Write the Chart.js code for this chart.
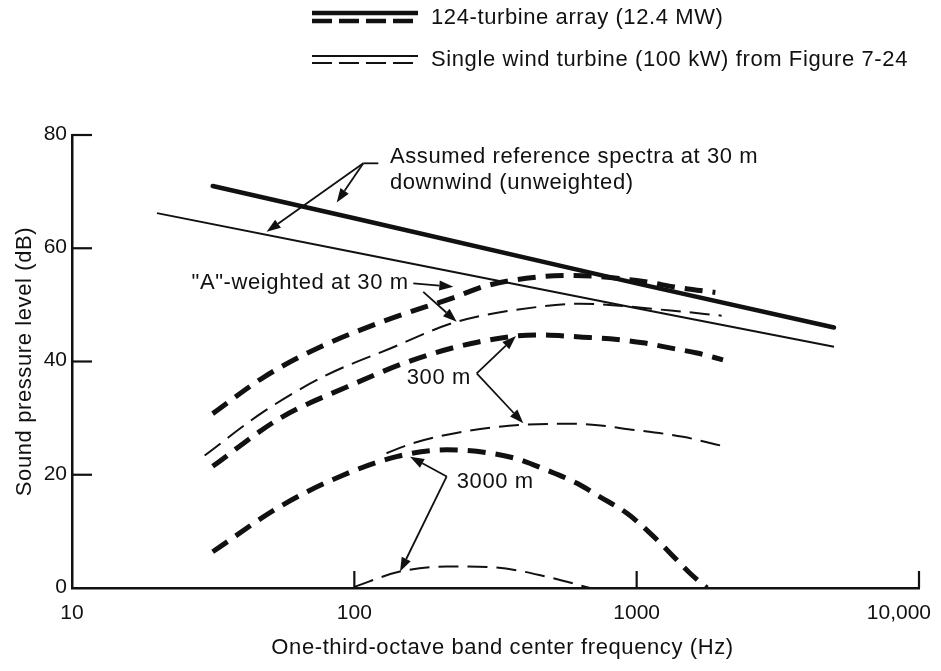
<!DOCTYPE html>
<html>
<head>
<meta charset="utf-8">
<script src="https://cdn.jsdelivr.net/npm/chart.js@4/dist/chart.umd.min.js"></script>
<style>
html,body{margin:0;padding:0;background:#fff;}
#wrap{width:941px;height:671px;position:relative;}
</style>
</head>
<body>
<div id="wrap"><canvas id="c" width="941" height="671"></canvas></div>
<script>
// ---------- data (frequency in Hz, level in dB) ----------
const xTickValues = [10, 100, 1000, 10000];
const xTickLabels = ['10', '100', '1000', '10,000'];
const yTickValues = [0, 20, 40, 60, 80];

// 124-turbine array, unweighted reference at 30 m (thick solid)
const arrayRefFreq = [31.5, 100, 1000, 5000];
const arrayRefDb   = [71.0, 65.3, 53.8, 46.0];

// single turbine, unweighted reference at 30 m (thin solid)
const singleRefFreq = [20, 100, 1000, 5000];
const singleRefDb   = [66.2, 59.3, 49.4, 42.6];

// array, A-weighted at 30 m (thick dashed)
const arrayA30Freq = [31.5, 48, 76, 130, 225, 295, 444, 600, 1000, 1430, 1900];
const arrayA30Db   = [30.8, 37.3, 42.6, 47.3, 51.3, 53.4, 54.9, 55.2, 54.3, 53.0, 52.2];

// single, A-weighted at 30 m (thin dashed)
const singleA30Freq = [29.5, 47.6, 77.5, 134, 230, 457, 633, 1320, 2000];
const singleA30Db   = [23.4, 31.1, 37.3, 42.3, 47.0, 49.7, 50.2, 49.0, 48.1];

// array, 300 m (thick dashed)
const array300Freq = [31.5, 54.6, 94, 162, 278, 443, 646, 804, 1053, 1312, 1636, 2022];
const array300Db   = [21.5, 30.0, 35.5, 40.3, 43.5, 44.7, 44.3, 44.0, 43.3, 42.4, 41.5, 40.3];

// single, 300 m (thin dashed)
const single300Freq = [130, 162, 243, 386, 605, 986, 1459, 1894, 2090];
const single300Db   = [23.8, 25.6, 27.6, 28.8, 29.0, 27.9, 26.7, 25.4, 24.9];

// array, 3000 m (thick dashed)
const array3000Freq = [31.5, 54.6, 89, 141, 212, 365, 481, 615, 741, 924, 1115, 1312, 1545, 1775];
const array3000Db   = [6.4, 14.4, 19.7, 23.2, 24.4, 23.0, 20.8, 18.5, 16.1, 13.2, 9.7, 6.2, 2.6, 0];

// single, 3000 m (thin dashed)
const single3000Freq = [100, 145, 212, 319, 480, 683];
const single3000Db   = [0.2, 2.9, 3.8, 3.6, 2.0, 0];

// ---------- text ----------
const legendLabels = ['124-turbine array (12.4 MW)', 'Single wind turbine (100 kW) from Figure 7-24'];
const xTitle = 'One-third-octave band center frequency (Hz)';
const yTitle = 'Sound pressure level (dB)';

// annotations, anchored in data space [Hz, dB]
const noteRef = { lines: ['Assumed reference spectra at 30 m', 'downwind (unweighted)'], at: [[133.7, 76.2], [133.7, 71.5]],
                  tail: [[121.6, 75.0], [107.6, 75.0]], tips: [[48.9, 62.9], [86.6, 68.1]] };
const noteA30 = { text: '"A"-weighted at 30 m', at: [26.5, 53.9],
                  arrows: [[[161.8, 53.8], [224.2, 53.2]], [[175.4, 52.3], [230.5, 47.0]]] };
const note300 = { text: '300 m', at: [153.3, 37.1], vertex: [271.3, 37.9], tips: [[373.7, 44.5], [396.7, 29.1]] };
const note3000 = { text: '3000 m', at: [230.5, 18.8], vertex: [212.4, 19.7], tips: [[157.5, 23.2], [145.2, 2.9]] };

// ---------- style ----------
const INK = '#111';
const FONT = '"Liberation Sans", Arial, Helvetica, sans-serif';

const pts = (f, d) => f.map((x, i) => ({ x: x, y: d[i] }));
const thickDash = [18, 10];
const thinDash = [20, 9];

const datasets = [
  { label: 'array ref', data: pts(arrayRefFreq, arrayRefDb), borderWidth: 4.5, borderCapStyle: 'round' },
  { label: 'single ref', data: pts(singleRefFreq, singleRefDb), borderWidth: 2 },
  { label: 'array A 30 m', data: pts(arrayA30Freq, arrayA30Db), borderWidth: 5, borderDash: thickDash, cubicInterpolationMode: 'monotone' },
  { label: 'single A 30 m', data: pts(singleA30Freq, singleA30Db), borderWidth: 2, borderDash: thinDash, cubicInterpolationMode: 'monotone' },
  { label: 'array 300 m', data: pts(array300Freq, array300Db), borderWidth: 5, borderDash: thickDash, cubicInterpolationMode: 'monotone' },
  { label: 'single 300 m', data: pts(single300Freq, single300Db), borderWidth: 2, borderDash: thinDash, cubicInterpolationMode: 'monotone' },
  { label: 'array 3000 m', data: pts(array3000Freq, array3000Db), borderWidth: 5, borderDash: thickDash, cubicInterpolationMode: 'monotone' },
  { label: 'single 3000 m', data: pts(single3000Freq, single3000Db), borderWidth: 2, borderDash: thinDash, cubicInterpolationMode: 'monotone' }
].map(d => Object.assign({ borderColor: INK, pointRadius: 0, fill: false, tension: 0 }, d));

function arrow(ctx, x1, y1, x2, y2) {
  const ang = Math.atan2(y2 - y1, x2 - x1);
  const L = 14, W = 5;
  const bx = x2 - L * Math.cos(ang), by = y2 - L * Math.sin(ang);
  ctx.beginPath(); ctx.moveTo(x1, y1); ctx.lineTo(bx, by); ctx.stroke();
  ctx.beginPath();
  ctx.moveTo(x2, y2);
  ctx.lineTo(bx + W * Math.sin(ang), by - W * Math.cos(ang));
  ctx.lineTo(bx - W * Math.sin(ang), by + W * Math.cos(ang));
  ctx.closePath(); ctx.fill();
}

const overlay = {
  id: 'overlay',
  beforeDraw(chart) {
    const ctx = chart.ctx;
    ctx.save(); ctx.fillStyle = '#fff'; ctx.fillRect(0, 0, chart.width, chart.height); ctx.restore();
  },
  afterDraw(chart) {
    const ctx = chart.ctx, a = chart.chartArea, xs = chart.scales.x, ys = chart.scales.y;
    const P = (p) => [xs.getPixelForValue(p[0]), ys.getPixelForValue(p[1])];
    ctx.save();
    ctx.strokeStyle = INK; ctx.fillStyle = INK;
    // inward tick marks
    ctx.lineWidth = 2.2;
    yTickValues.forEach(v => {
      if (v === 0) return;
      const py = ys.getPixelForValue(v);
      ctx.beginPath(); ctx.moveTo(a.left, py); ctx.lineTo(a.left + 20, py); ctx.stroke();
    });
    xTickValues.forEach(v => {
      if (v === xTickValues[0]) return;
      const px = xs.getPixelForValue(v);
      ctx.beginPath(); ctx.moveTo(px, a.bottom); ctx.lineTo(px, a.bottom - 17); ctx.stroke();
    });
    // tick labels
    ctx.font = '21px ' + FONT;
    ctx.textBaseline = 'middle';
    ctx.textAlign = 'right';
    yTickValues.forEach(v => {
      ctx.fillText(String(v), a.left - 5, ys.getPixelForValue(v) - 1);
    });
    xTickValues.forEach((v, i) => {
      const px = xs.getPixelForValue(v);
      if (i === xTickValues.length - 1) { ctx.textAlign = 'right'; ctx.fillText(xTickLabels[i], px + 12, a.bottom + 25); }
      else { ctx.textAlign = 'center'; ctx.fillText(xTickLabels[i], px, a.bottom + 25); }
    });
    // axis titles
    ctx.font = '22px ' + FONT;
    try { ctx.letterSpacing = '0.6px'; } catch (e) {}
    ctx.textAlign = 'center';
    ctx.fillText(xTitle, (a.left + a.right) / 2 + 7, a.bottom + 60);
    ctx.save();
    ctx.translate(25, (a.top + a.bottom) / 2);
    ctx.rotate(-Math.PI / 2);
    ctx.fillText(yTitle, 0, 0);
    ctx.restore();

    // legend
    ctx.textAlign = 'left';
    const lx1 = 312, lx2 = 418;
    ctx.lineWidth = 4.5; ctx.setLineDash([]);
    ctx.beginPath(); ctx.moveTo(lx1, 13); ctx.lineTo(lx2, 13); ctx.stroke();
    ctx.setLineDash([20, 7]);
    ctx.beginPath(); ctx.moveTo(lx1, 21); ctx.lineTo(lx2, 21); ctx.stroke();
    ctx.lineWidth = 2; ctx.setLineDash([]);
    ctx.beginPath(); ctx.moveTo(lx1, 56); ctx.lineTo(lx2, 56); ctx.stroke();
    ctx.setLineDash([20, 7]);
    ctx.beginPath(); ctx.moveTo(lx1, 63); ctx.lineTo(lx2, 63); ctx.stroke();
    ctx.setLineDash([]);
    ctx.fillText(legendLabels[0], 431, 18);
    ctx.fillText(legendLabels[1], 431, 60);

    // annotations
    ctx.lineWidth = 1.8;
    noteRef.lines.forEach((t, i) => { const p = P(noteRef.at[i]); ctx.fillText(t, p[0], p[1]); });
    const t0 = P(noteRef.tail[0]), t1 = P(noteRef.tail[1]);
    ctx.beginPath(); ctx.moveTo(t0[0], t0[1]); ctx.lineTo(t1[0], t1[1]); ctx.stroke();
    noteRef.tips.forEach(tp => { const q = P(tp); arrow(ctx, t1[0], t1[1], q[0], q[1]); });

    let p = P(noteA30.at); ctx.fillText(noteA30.text, p[0], p[1]);
    noteA30.arrows.forEach(ar => { const s = P(ar[0]), e = P(ar[1]); arrow(ctx, s[0], s[1], e[0], e[1]); });

    [note300, note3000].forEach(n => {
      const q = P(n.at); ctx.fillText(n.text, q[0], q[1]);
      const v = P(n.vertex);
      n.tips.forEach(tp => { const e = P(tp); arrow(ctx, v[0], v[1], e[0], e[1]); });
    });
    ctx.restore();
  }
};

new Chart(document.getElementById('c'), {
  type: 'line',
  data: { datasets: datasets },
  options: {
    responsive: false,
    animation: false,
    devicePixelRatio: 1,
    layout: { padding: { left: 72, right: 22, top: 135, bottom: 83 } },
    plugins: { legend: { display: false }, tooltip: { enabled: false } },
    scales: {
      x: {
        type: 'logarithmic', min: 10, max: 10000,
        ticks: { display: false },
        grid: { display: false, drawTicks: false },
        border: { display: true, color: INK, width: 2.5 }
      },
      y: {
        type: 'linear', min: 0, max: 80,
        ticks: { display: false },
        grid: { display: false, drawTicks: false },
        border: { display: true, color: INK, width: 2.5 }
      }
    }
  },
  plugins: [overlay]
});
</script>
</body>
</html>
